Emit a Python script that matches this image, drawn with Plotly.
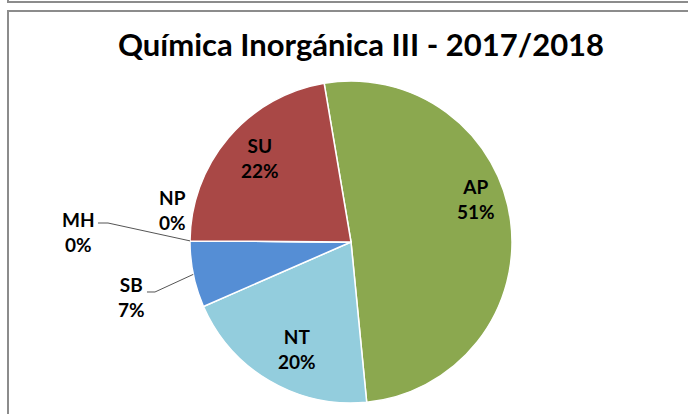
import math
import plotly.graph_objects as go

categories = ["AP", "NT", "SB", "MH", "NP", "SU"]
values = [23, 9, 3, 0, 0, 10]
colors = ["#8BA84F", "#93CDDD", "#558ED5", "#4F81BD", "#C0504D", "#A94846"]
title_text = "Química Inorgánica III - 2017/2018"

W, H = 688, 414
CX, CY, R = 351, 242, 161
ROT = -9.6

total = sum(values)
pcts = [f"{round(100 * v / total)}%" for v in values]

fig = go.Figure()
fig.add_trace(go.Pie(
    labels=categories, values=values, sort=False, direction="clockwise",
    rotation=ROT, textinfo="none", hoverinfo="label+percent",
    marker=dict(colors=colors, line=dict(color="white", width=1.5)),
    domain=dict(x=[(CX - R) / W, (CX + R) / W], y=[(H - CY - R) / H, (H - CY + R) / H]),
    showlegend=False,
))

def px(x, y):
    return x / W, 1 - y / H

def edge(cum):
    th = math.radians(ROT + 360 * cum / total)
    return CX + R * math.sin(th), CY - R * math.cos(th)

# label centres (pixels)
label_pos = {"AP": (476, 199), "SU": (260, 158), "NT": (297, 349),
             "SB": (131, 297), "MH": (78, 232), "NP": (172, 210)}

annotations = []
for c, p in zip(categories, pcts):
    x, y = px(*label_pos[c])
    annotations.append(dict(
        x=x, y=y, xref="paper", yref="paper", showarrow=False,
        xanchor="center", yanchor="middle",
        text=f"{c}<br>{p}", align="center",
        font=dict(family="Lato", size=19, color="black", weight="bold"),
    ))

annotations.append(dict(
    x=361 / W, y=1 - 44 / H, xref="paper", yref="paper", showarrow=False,
    xanchor="center", yanchor="middle",
    text=title_text, font=dict(family="Lato", size=31, color="black", weight="bold"),
))

cum = [sum(values[:i]) for i in range(len(values) + 1)]
sb_i = categories.index("SB")
mh_i = categories.index("MH")
sb_edge = edge((cum[sb_i] + cum[sb_i + 1]) / 2)
mh_edge = edge(cum[mh_i])

def path(points):
    pts = [px(*p) for p in points]
    return "M " + " L ".join(f"{a:.5f},{b:.5f}" for a, b in pts)

shapes = [
    dict(type="path", xref="paper", yref="paper",
         path=path([(147, 292), (155, 292), sb_edge]),
         line=dict(color="#555555", width=1)),
    dict(type="path", xref="paper", yref="paper",
         path=path([(98, 223), (108, 223), mh_edge]),
         line=dict(color="#555555", width=1)),
    # frames
    dict(type="path", xref="paper", yref="paper",
         path=path([(8, -2), (8, 2), (700, 2)]),
         line=dict(color="#8c8c8c", width=2)),
    dict(type="path", xref="paper", yref="paper",
         path=path([(8, 420), (8, 11), (700, 11)]),
         line=dict(color="#8c8c8c", width=2)),
]

fig.update_layout(
    width=W, height=H, margin=dict(l=0, r=0, t=0, b=0),
    paper_bgcolor="white", plot_bgcolor="white",
    annotations=annotations, shapes=shapes,
)
fig.write_html("out.html", config={"displayModeBar": False},
               post_script="document.body.style.margin='0';document.body.style.overflow='hidden';")
